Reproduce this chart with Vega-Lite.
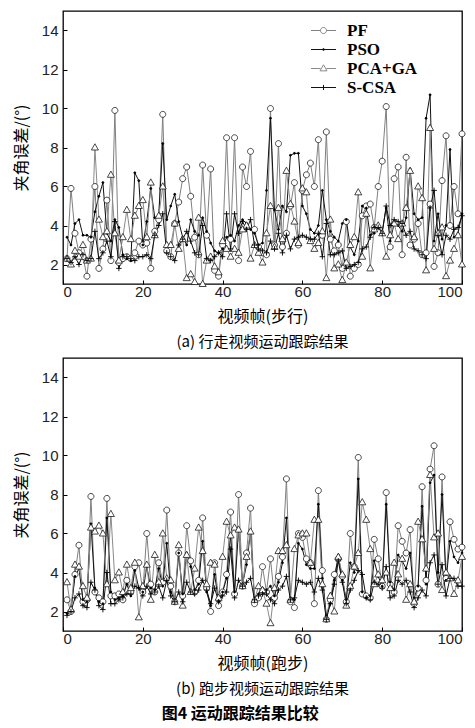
{
"$schema": "https://vega.github.io/schema/vega-lite/v6.json",
"background": "white",
"padding": {"left": 12, "top": 10, "right": 4, "bottom": 4},
"spacing": 6,
"config": {
  "view": {"stroke": "black", "strokeWidth": 1.3},
  "axis": {"domain": false, "grid": false, "tickColor": "black", "tickSize": -4, "labelFont": "Liberation Sans", "labelFontSize": 15, "labelColor": "#222", "titleFont": "Noto Sans CJK SC", "titleFontSize": 16, "titleFontWeight": "normal", "titleColor": "black"},
  "title": {"font": "Noto Sans CJK SC", "fontSize": 15, "fontWeight": "normal", "color": "black"},
  "legend": {"orient": "none", "legendX": 250, "legendY": 9, "title": null, "symbolSize": 380, "rowPadding": 0, "labelOffset": 13, "labelFont": "Liberation Serif", "labelFontWeight": "bold", "labelFontSize": 17, "labelColor": "black", "padding": 0}
},
"title": {"text": "图4  运动跟踪结果比较", "orient": "bottom", "anchor": "middle", "fontSize": 16, "fontWeight": "bold", "offset": 8},
"datasets": {
"a": [
{"f":1,"PF":2.3,"PSO":3.4,"PCA+GA":2.3,"S-CSA":2.3},{"f":2,"PF":5.9,"PSO":3.0,"PCA+GA":2.0,"S-CSA":2.1},{"f":3,"PF":3.6,"PSO":4.1,"PCA+GA":2.7,"S-CSA":2.4},{"f":4,"PF":2.6,"PSO":4.3,"PCA+GA":2.4,"S-CSA":2.0},{"f":5,"PF":2.4,"PSO":3.5,"PCA+GA":3.0,"S-CSA":2.5},
{"f":6,"PF":1.4,"PSO":3.5,"PCA+GA":2.2,"S-CSA":2.2},{"f":7,"PF":3.3,"PSO":3.4,"PCA+GA":2.3,"S-CSA":2.3},{"f":8,"PF":6.0,"PSO":4.7,"PCA+GA":8.0,"S-CSA":3.7},{"f":9,"PF":1.8,"PSO":5.5,"PCA+GA":4.3,"S-CSA":2.3},{"f":10,"PF":2.8,"PSO":6.2,"PCA+GA":3.4,"S-CSA":2.6},
{"f":11,"PF":5.3,"PSO":3.6,"PCA+GA":3.7,"S-CSA":3.2},{"f":12,"PF":2.2,"PSO":3.2,"PCA+GA":6.6,"S-CSA":2.4},{"f":13,"PF":9.9,"PSO":4.3,"PCA+GA":3.6,"S-CSA":4.2},{"f":14,"PF":2.1,"PSO":3.9,"PCA+GA":2.2,"S-CSA":1.8},{"f":15,"PF":2.3,"PSO":2.5,"PCA+GA":3.4,"S-CSA":2.4},
{"f":16,"PF":2.4,"PSO":2.3,"PCA+GA":4.8,"S-CSA":2.4},{"f":17,"PF":2.3,"PSO":2.2,"PCA+GA":3.3,"S-CSA":2.3},{"f":18,"PF":2.6,"PSO":6.7,"PCA+GA":4.5,"S-CSA":2.2},{"f":19,"PF":3.2,"PSO":6.3,"PCA+GA":5.0,"S-CSA":2.4},{"f":20,"PF":3.0,"PSO":3.0,"PCA+GA":5.3,"S-CSA":2.4},
{"f":21,"PF":3.1,"PSO":4.2,"PCA+GA":3.4,"S-CSA":2.5},{"f":22,"PF":1.8,"PSO":5.9,"PCA+GA":6.2,"S-CSA":2.3},{"f":23,"PF":3.7,"PSO":4.4,"PCA+GA":3.5,"S-CSA":3.5},{"f":24,"PF":4.3,"PSO":4.5,"PCA+GA":4.5,"S-CSA":4.0},{"f":25,"PF":9.7,"PSO":8.2,"PCA+GA":6.0,"S-CSA":4.6},
{"f":26,"PF":2.7,"PSO":4.3,"PCA+GA":3.0,"S-CSA":2.6},{"f":27,"PF":2.4,"PSO":5.0,"PCA+GA":3.0,"S-CSA":2.4},{"f":28,"PF":4.1,"PSO":5.6,"PCA+GA":4.1,"S-CSA":2.2},{"f":29,"PF":5.2,"PSO":4.2,"PCA+GA":2.8,"S-CSA":3.0},{"f":30,"PF":6.4,"PSO":3.4,"PCA+GA":3.3,"S-CSA":3.3},
{"f":31,"PF":7.0,"PSO":3.0,"PCA+GA":1.3,"S-CSA":3.7},{"f":32,"PF":5.5,"PSO":4.3,"PCA+GA":1.5,"S-CSA":3.2},{"f":33,"PF":3.4,"PSO":3.7,"PCA+GA":1.1,"S-CSA":2.6},{"f":34,"PF":2.5,"PSO":3.5,"PCA+GA":4.4,"S-CSA":2.5},{"f":35,"PF":7.1,"PSO":4.4,"PCA+GA":1.0,"S-CSA":4.0},
{"f":36,"PF":3.5,"PSO":3.7,"PCA+GA":2.2,"S-CSA":2.3},{"f":37,"PF":6.9,"PSO":3.1,"PCA+GA":2.4,"S-CSA":2.2},{"f":38,"PF":1.7,"PSO":2.7,"PCA+GA":1.9,"S-CSA":2.4},{"f":39,"PF":1.4,"PSO":2.6,"PCA+GA":1.6,"S-CSA":2.6},{"f":40,"PF":3.0,"PSO":2.8,"PCA+GA":3.2,"S-CSA":2.4},
{"f":41,"PF":8.5,"PSO":3.4,"PCA+GA":2.8,"S-CSA":4.6},{"f":42,"PF":3.3,"PSO":3.5,"PCA+GA":2.4,"S-CSA":2.8},{"f":43,"PF":8.5,"PSO":3.2,"PCA+GA":2.8,"S-CSA":4.6},{"f":44,"PF":2.2,"PSO":4.0,"PCA+GA":2.6,"S-CSA":3.6},{"f":45,"PF":7.0,"PSO":4.3,"PCA+GA":3.8,"S-CSA":4.2},
{"f":46,"PF":6.0,"PSO":4.1,"PCA+GA":4.0,"S-CSA":3.8},{"f":47,"PF":7.8,"PSO":3.8,"PCA+GA":2.3,"S-CSA":4.3},{"f":48,"PF":3.8,"PSO":3.6,"PCA+GA":3.0,"S-CSA":3.0},{"f":49,"PF":2.9,"PSO":3.0,"PCA+GA":2.6,"S-CSA":2.8},{"f":50,"PF":2.6,"PSO":3.1,"PCA+GA":2.1,"S-CSA":2.7},
{"f":51,"PF":2.5,"PSO":5.8,"PCA+GA":3.6,"S-CSA":2.6},{"f":52,"PF":10.0,"PSO":9.5,"PCA+GA":5.0,"S-CSA":3.2},{"f":53,"PF":3.0,"PSO":4.8,"PCA+GA":2.9,"S-CSA":2.8},{"f":54,"PF":8.2,"PSO":3.8,"PCA+GA":4.9,"S-CSA":3.6},{"f":55,"PF":2.9,"PSO":5.0,"PCA+GA":3.3,"S-CSA":2.6},
{"f":56,"PF":3.6,"PSO":4.7,"PCA+GA":6.8,"S-CSA":3.5},{"f":57,"PF":5.0,"PSO":7.6,"PCA+GA":5.1,"S-CSA":2.8},{"f":58,"PF":6.2,"PSO":7.7,"PCA+GA":4.2,"S-CSA":3.3},{"f":59,"PF":3.0,"PSO":7.7,"PCA+GA":3.1,"S-CSA":3.4},{"f":60,"PF":5.8,"PSO":5.0,"PCA+GA":5.9,"S-CSA":3.5},
{"f":61,"PF":6.6,"PSO":4.6,"PCA+GA":5.7,"S-CSA":3.4},{"f":62,"PF":7.2,"PSO":3.8,"PCA+GA":3.2,"S-CSA":3.3},{"f":63,"PF":6.0,"PSO":3.6,"PCA+GA":2.8,"S-CSA":3.3},{"f":64,"PF":8.4,"PSO":4.0,"PCA+GA":3.1,"S-CSA":3.6},{"f":65,"PF":3.5,"PSO":5.8,"PCA+GA":3.7,"S-CSA":2.4},
{"f":66,"PF":8.8,"PSO":4.3,"PCA+GA":1.3,"S-CSA":4.1},{"f":67,"PF":3.3,"PSO":3.7,"PCA+GA":4.3,"S-CSA":2.5},{"f":68,"PF":2.7,"PSO":3.4,"PCA+GA":1.8,"S-CSA":2.5},{"f":69,"PF":3.0,"PSO":3.2,"PCA+GA":2.0,"S-CSA":2.6},{"f":70,"PF":1.8,"PSO":4.1,"PCA+GA":1.2,"S-CSA":2.7},
{"f":71,"PF":4.2,"PSO":4.3,"PCA+GA":2.1,"S-CSA":1.8},{"f":72,"PF":1.4,"PSO":2.9,"PCA+GA":3.0,"S-CSA":1.9},{"f":73,"PF":1.8,"PSO":2.5,"PCA+GA":3.4,"S-CSA":2.0},{"f":74,"PF":2.0,"PSO":3.2,"PCA+GA":5.7,"S-CSA":2.1},{"f":75,"PF":4.5,"PSO":5.0,"PCA+GA":2.4,"S-CSA":2.8},
{"f":76,"PF":5.0,"PSO":4.9,"PCA+GA":4.6,"S-CSA":2.9},{"f":77,"PF":5.1,"PSO":3.5,"PCA+GA":1.8,"S-CSA":3.4},{"f":78,"PF":3.9,"PSO":3.6,"PCA+GA":3.8,"S-CSA":3.9},{"f":79,"PF":6.0,"PSO":3.9,"PCA+GA":4.0,"S-CSA":3.9},{"f":80,"PF":7.3,"PSO":3.7,"PCA+GA":3.6,"S-CSA":3.6},
{"f":81,"PF":10.1,"PSO":4.9,"PCA+GA":2.4,"S-CSA":5.0},{"f":82,"PF":2.9,"PSO":3.2,"PCA+GA":3.5,"S-CSA":4.0},{"f":83,"PF":6.4,"PSO":4.1,"PCA+GA":4.1,"S-CSA":4.3},{"f":84,"PF":7.0,"PSO":4.0,"PCA+GA":3.3,"S-CSA":4.2},{"f":85,"PF":2.5,"PSO":3.7,"PCA+GA":4.1,"S-CSA":4.1},
{"f":86,"PF":7.5,"PSO":4.4,"PCA+GA":4.9,"S-CSA":3.5},{"f":87,"PF":3.0,"PSO":6.9,"PCA+GA":6.8,"S-CSA":3.7},{"f":88,"PF":3.3,"PSO":4.6,"PCA+GA":3.4,"S-CSA":2.8},{"f":89,"PF":4.1,"PSO":4.3,"PCA+GA":6.0,"S-CSA":2.7},{"f":90,"PF":2.5,"PSO":4.4,"PCA+GA":5.4,"S-CSA":2.5},
{"f":91,"PF":2.6,"PSO":9.5,"PCA+GA":1.7,"S-CSA":2.3},{"f":92,"PF":5.1,"PSO":10.7,"PCA+GA":9.0,"S-CSA":4.9},{"f":93,"PF":1.9,"PSO":3.2,"PCA+GA":2.8,"S-CSA":5.8},{"f":94,"PF":2.6,"PSO":4.6,"PCA+GA":3.6,"S-CSA":3.5},{"f":95,"PF":6.3,"PSO":3.3,"PCA+GA":3.9,"S-CSA":2.5},
{"f":96,"PF":8.6,"PSO":4.0,"PCA+GA":1.4,"S-CSA":3.5},{"f":97,"PF":4.0,"PSO":7.9,"PCA+GA":2.2,"S-CSA":3.3},{"f":98,"PF":6.0,"PSO":3.4,"PCA+GA":2.8,"S-CSA":3.8},{"f":99,"PF":4.6,"PSO":3.6,"PCA+GA":3.5,"S-CSA":3.9},{"f":100,"PF":8.7,"PSO":4.6,"PCA+GA":2.0,"S-CSA":4.5}
],
"b": [
{"f":1,"PF":2.6,"PSO":1.9,"PCA+GA":3.5,"S-CSA":1.8},{"f":2,"PF":2.0,"PSO":2.1,"PCA+GA":2.1,"S-CSA":2.0},{"f":3,"PF":3.9,"PSO":3.8,"PCA+GA":4.4,"S-CSA":2.7},{"f":4,"PF":5.4,"PSO":4.2,"PCA+GA":4.3,"S-CSA":2.9},{"f":5,"PF":2.5,"PSO":2.6,"PCA+GA":3.3,"S-CSA":2.3},
{"f":6,"PF":2.6,"PSO":2.5,"PCA+GA":2.7,"S-CSA":2.2},{"f":7,"PF":7.9,"PSO":6.5,"PCA+GA":6.3,"S-CSA":3.5},{"f":8,"PF":3.0,"PSO":3.2,"PCA+GA":6.1,"S-CSA":3.1},{"f":9,"PF":2.7,"PSO":2.5,"PCA+GA":6.4,"S-CSA":2.3},{"f":10,"PF":2.5,"PSO":2.4,"PCA+GA":6.0,"S-CSA":2.1},
{"f":11,"PF":7.8,"PSO":6.8,"PCA+GA":3.4,"S-CSA":4.0},{"f":12,"PF":2.8,"PSO":3.0,"PCA+GA":7.0,"S-CSA":2.4},{"f":13,"PF":2.8,"PSO":2.6,"PCA+GA":3.6,"S-CSA":2.4},{"f":14,"PF":2.9,"PSO":2.7,"PCA+GA":4.0,"S-CSA":2.6},{"f":15,"PF":2.6,"PSO":2.8,"PCA+GA":3.0,"S-CSA":2.7},
{"f":16,"PF":3.6,"PSO":3.4,"PCA+GA":4.4,"S-CSA":2.9},{"f":17,"PF":3.0,"PSO":2.8,"PCA+GA":3.2,"S-CSA":2.9},{"f":18,"PF":4.3,"PSO":4.1,"PCA+GA":4.5,"S-CSA":3.3},{"f":19,"PF":4.5,"PSO":3.2,"PCA+GA":1.7,"S-CSA":3.2},{"f":20,"PF":3.0,"PSO":3.0,"PCA+GA":3.3,"S-CSA":2.8},
{"f":21,"PF":6.0,"PSO":4.3,"PCA+GA":4.4,"S-CSA":3.3},{"f":22,"PF":3.4,"PSO":3.2,"PCA+GA":2.6,"S-CSA":2.9},{"f":23,"PF":3.0,"PSO":3.1,"PCA+GA":4.9,"S-CSA":3.0},{"f":24,"PF":4.5,"PSO":4.2,"PCA+GA":3.5,"S-CSA":3.3},{"f":25,"PF":3.5,"PSO":3.3,"PCA+GA":6.0,"S-CSA":2.7},
{"f":26,"PF":7.2,"PSO":5.5,"PCA+GA":3.7,"S-CSA":3.6},{"f":27,"PF":3.3,"PSO":3.0,"PCA+GA":3.6,"S-CSA":2.8},{"f":28,"PF":2.5,"PSO":2.6,"PCA+GA":2.5,"S-CSA":2.5},{"f":29,"PF":5.0,"PSO":5.0,"PCA+GA":5.4,"S-CSA":3.0},{"f":30,"PF":2.8,"PSO":2.9,"PCA+GA":2.3,"S-CSA":2.5},
{"f":31,"PF":6.4,"PSO":5.0,"PCA+GA":4.9,"S-CSA":3.5},{"f":32,"PF":4.6,"PSO":4.3,"PCA+GA":3.0,"S-CSA":3.0},{"f":33,"PF":3.0,"PSO":3.1,"PCA+GA":4.2,"S-CSA":2.9},{"f":34,"PF":3.6,"PSO":3.4,"PCA+GA":6.3,"S-CSA":3.1},{"f":35,"PF":6.8,"PSO":5.6,"PCA+GA":5.1,"S-CSA":3.6},
{"f":36,"PF":3.2,"PSO":3.0,"PCA+GA":3.4,"S-CSA":3.1},{"f":37,"PF":2.0,"PSO":2.3,"PCA+GA":4.5,"S-CSA":2.4},{"f":38,"PF":4.5,"PSO":3.9,"PCA+GA":4.4,"S-CSA":3.2},{"f":39,"PF":2.3,"PSO":2.5,"PCA+GA":2.7,"S-CSA":2.5},{"f":40,"PF":3.0,"PSO":3.0,"PCA+GA":4.8,"S-CSA":2.8},
{"f":41,"PF":3.9,"PSO":3.7,"PCA+GA":6.6,"S-CSA":3.0},{"f":42,"PF":7.1,"PSO":5.9,"PCA+GA":5.9,"S-CSA":5.2},{"f":43,"PF":2.9,"PSO":3.0,"PCA+GA":6.3,"S-CSA":2.7},{"f":44,"PF":8.0,"PSO":6.2,"PCA+GA":6.2,"S-CSA":3.6},{"f":45,"PF":3.3,"PSO":3.4,"PCA+GA":3.3,"S-CSA":3.3},
{"f":46,"PF":5.0,"PSO":4.4,"PCA+GA":4.8,"S-CSA":3.5},{"f":47,"PF":7.3,"PSO":6.1,"PCA+GA":6.1,"S-CSA":3.7},{"f":48,"PF":2.4,"PSO":2.5,"PCA+GA":2.6,"S-CSA":2.6},{"f":49,"PF":2.7,"PSO":2.9,"PCA+GA":3.3,"S-CSA":2.8},{"f":50,"PF":4.3,"PSO":3.2,"PCA+GA":3.1,"S-CSA":2.9},
{"f":51,"PF":3.0,"PSO":3.1,"PCA+GA":2.4,"S-CSA":2.9},{"f":52,"PF":4.7,"PSO":3.3,"PCA+GA":1.4,"S-CSA":2.6},{"f":53,"PF":2.7,"PSO":2.8,"PCA+GA":3.2,"S-CSA":2.4},{"f":54,"PF":3.8,"PSO":3.5,"PCA+GA":5.1,"S-CSA":3.1},{"f":55,"PF":4.8,"PSO":4.5,"PCA+GA":5.1,"S-CSA":3.3},
{"f":56,"PF":8.8,"PSO":6.8,"PCA+GA":5.4,"S-CSA":3.8},{"f":57,"PF":2.5,"PSO":2.7,"PCA+GA":2.6,"S-CSA":2.6},{"f":58,"PF":2.2,"PSO":2.6,"PCA+GA":5.2,"S-CSA":2.7},{"f":59,"PF":6.0,"PSO":5.5,"PCA+GA":5.9,"S-CSA":3.6},{"f":60,"PF":5.8,"PSO":5.2,"PCA+GA":6.0,"S-CSA":3.5},
{"f":61,"PF":4.7,"PSO":4.4,"PCA+GA":6.0,"S-CSA":3.4},{"f":62,"PF":4.5,"PSO":4.2,"PCA+GA":4.5,"S-CSA":3.5},{"f":63,"PF":2.4,"PSO":4.2,"PCA+GA":6.7,"S-CSA":3.0},{"f":64,"PF":8.2,"PSO":7.5,"PCA+GA":6.7,"S-CSA":3.7},{"f":65,"PF":4.1,"PSO":3.7,"PCA+GA":3.4,"S-CSA":3.1},
{"f":66,"PF":1.6,"PSO":1.8,"PCA+GA":1.6,"S-CSA":1.6},{"f":67,"PF":2.6,"PSO":2.4,"PCA+GA":2.8,"S-CSA":2.4},{"f":68,"PF":3.9,"PSO":3.6,"PCA+GA":2.0,"S-CSA":3.4},{"f":69,"PF":4.7,"PSO":4.9,"PCA+GA":4.8,"S-CSA":4.6},{"f":70,"PF":3.8,"PSO":3.6,"PCA+GA":3.9,"S-CSA":3.5},
{"f":71,"PF":2.5,"PSO":2.6,"PCA+GA":2.3,"S-CSA":2.4},{"f":72,"PF":6.0,"PSO":4.5,"PCA+GA":3.3,"S-CSA":3.1},{"f":73,"PF":4.3,"PSO":4.0,"PCA+GA":4.3,"S-CSA":3.6},{"f":74,"PF":9.9,"PSO":8.8,"PCA+GA":5.0,"S-CSA":4.1},{"f":75,"PF":2.9,"PSO":3.0,"PCA+GA":7.6,"S-CSA":3.9},
{"f":76,"PF":2.8,"PSO":2.7,"PCA+GA":6.7,"S-CSA":2.7},{"f":77,"PF":2.7,"PSO":2.8,"PCA+GA":5.2,"S-CSA":2.6},{"f":78,"PF":5.7,"PSO":4.6,"PCA+GA":3.4,"S-CSA":3.5},{"f":79,"PF":4.7,"PSO":3.8,"PCA+GA":3.9,"S-CSA":3.4},{"f":80,"PF":3.3,"PSO":3.3,"PCA+GA":3.6,"S-CSA":3.2},
{"f":81,"PF":8.1,"PSO":7.5,"PCA+GA":4.0,"S-CSA":4.3},{"f":82,"PF":3.4,"PSO":3.5,"PCA+GA":3.2,"S-CSA":2.7},{"f":83,"PF":3.0,"PSO":3.1,"PCA+GA":4.5,"S-CSA":2.8},{"f":84,"PF":6.4,"PSO":4.9,"PCA+GA":3.9,"S-CSA":3.6},{"f":85,"PF":5.6,"PSO":4.6,"PCA+GA":4.7,"S-CSA":3.4},
{"f":86,"PF":5.0,"PSO":4.2,"PCA+GA":2.6,"S-CSA":3.6},{"f":87,"PF":6.2,"PSO":5.0,"PCA+GA":3.4,"S-CSA":3.0},{"f":88,"PF":2.4,"PSO":2.7,"PCA+GA":2.5,"S-CSA":2.2},{"f":89,"PF":3.2,"PSO":3.3,"PCA+GA":6.6,"S-CSA":2.7},{"f":90,"PF":8.4,"PSO":7.4,"PCA+GA":5.7,"S-CSA":3.1},
{"f":91,"PF":3.6,"PSO":3.4,"PCA+GA":4.2,"S-CSA":2.8},{"f":92,"PF":9.3,"PSO":8.6,"PCA+GA":9.0,"S-CSA":4.5},{"f":93,"PF":10.5,"PSO":9.0,"PCA+GA":5.8,"S-CSA":4.9},{"f":94,"PF":3.4,"PSO":4.0,"PCA+GA":6.0,"S-CSA":3.4},{"f":95,"PF":8.9,"PSO":8.0,"PCA+GA":3.1,"S-CSA":4.4},
{"f":96,"PF":3.7,"PSO":3.6,"PCA+GA":4.0,"S-CSA":2.8},{"f":97,"PF":6.6,"PSO":5.6,"PCA+GA":3.7,"S-CSA":3.7},{"f":98,"PF":5.7,"PSO":4.8,"PCA+GA":2.9,"S-CSA":3.7},{"f":99,"PF":5.2,"PSO":4.5,"PCA+GA":3.6,"S-CSA":3.3},{"f":100,"PF":5.3,"PSO":5.0,"PCA+GA":4.8,"S-CSA":3.3}
]
},
"vconcat": [
{
  "width": 399, "height": 273,
  "data": {"name": "a"},
  "transform": [{"fold": ["PF", "PSO", "PCA+GA", "S-CSA"], "as": ["method", "err"]}],
  "title": {"text": "(a) 行走视频运动跟踪结果", "orient": "bottom", "anchor": "middle", "offset": 11},
  "encoding": {
    "x": {"field": "f", "type": "quantitative", "scale": {"domain": [0, 100], "nice": false}, "axis": {"values": [0, 20, 40, 60, 80, 100], "title": "视频帧(步行)", "labelPadding": 4, "titlePadding": 9}},
    "y": {"field": "err", "type": "quantitative", "scale": {"domain": [1, 15], "nice": false}, "axis": {"values": [2, 4, 6, 8, 10, 12, 14], "title": "夹角误差/(°)", "labelPadding": 9, "titlePadding": 12}}
  },
  "layer": [
    {"mark": {"type": "line", "strokeWidth": 1},
     "encoding": {"color": {"field": "method", "type": "nominal",
       "scale": {"domain": ["PF", "PSO", "PCA+GA", "S-CSA"], "range": ["#808080", "#111111", "#8a8a8a", "#111111"]},
       "legend": {"encode": {"symbols": {"update": {"shape": {"signal": "datum.value === 'PF' ? 'M-1.28,0H-0.31M0.31,0H1.28M0.31,0A0.31,0.31,0,1,1,-0.31,0A0.31,0.31,0,1,1,0.31,0' : datum.value === 'PSO' ? 'M-1.28,0H1.28M0.1,0A0.1,0.1,0,1,1,-0.1,0A0.1,0.1,0,1,1,0.1,0' : datum.value === 'PCA+GA' ? 'M-1.28,0H-0.3M0.3,0H1.28M0,-0.38L0.36,0.24L-0.36,0.24Z' : 'M-1.28,0H1.28M0,-0.26V0.26'"}, "stroke": {"value": "black"}, "fill": {"value": "transparent"}, "strokeWidth": {"value": 1}, "size": {"value": 380}, "opacity": {"value": 1}}}}}}}},
    {"transform": [{"filter": "datum.method === 'PF'"}], "mark": {"type": "point", "shape": "M0.6,0A0.6,0.6,0,1,1,-0.6,0A0.6,0.6,0,1,1,0.6,0", "fill": "white", "stroke": "#1a1a1a", "strokeWidth": 0.8, "opacity": 1, "size": 100}},
    {"transform": [{"filter": "datum.method === 'PSO'"}], "mark": {"type": "point", "shape": "M0.2,0A0.2,0.2,0,1,1,-0.2,0A0.2,0.2,0,1,1,0.2,0", "fill": "black", "stroke": "black", "strokeWidth": 0.8, "opacity": 1, "size": 100}},
    {"transform": [{"filter": "datum.method === 'PCA+GA'"}], "mark": {"type": "point", "shape": "M0,-0.75L0.7,0.5L-0.7,0.5Z", "fill": "white", "stroke": "#1a1a1a", "strokeWidth": 0.8, "opacity": 1, "size": 100}},
    {"transform": [{"filter": "datum.method === 'S-CSA'"}], "mark": {"type": "point", "shape": "M-0.55,0H0.55M0,-0.55V0.55", "fill": "transparent", "stroke": "black", "strokeWidth": 0.9, "opacity": 1, "size": 100}}
  ]
},
{
  "width": 399, "height": 273,
  "data": {"name": "b"},
  "transform": [{"fold": ["PF", "PSO", "PCA+GA", "S-CSA"], "as": ["method", "err"]}],
  "title": {"text": "(b) 跑步视频运动跟踪结果", "orient": "bottom", "anchor": "middle", "offset": 11},
  "encoding": {
    "x": {"field": "f", "type": "quantitative", "scale": {"domain": [0, 100], "nice": false}, "axis": {"values": [0, 20, 40, 60, 80, 100], "title": "视频帧(跑步)", "labelPadding": 4, "titlePadding": 9}},
    "y": {"field": "err", "type": "quantitative", "scale": {"domain": [1, 15], "nice": false}, "axis": {"values": [2, 4, 6, 8, 10, 12, 14], "title": "夹角误差/(°)", "labelPadding": 9, "titlePadding": 12}}
  },
  "layer": [
    {"mark": {"type": "line", "strokeWidth": 1},
     "encoding": {"color": {"field": "method", "type": "nominal",
       "scale": {"domain": ["PF", "PSO", "PCA+GA", "S-CSA"], "range": ["#808080", "#111111", "#8a8a8a", "#111111"]},
       "legend": {"encode": {"symbols": {"update": {"shape": {"signal": "datum.value === 'PF' ? 'M-1.28,0H-0.31M0.31,0H1.28M0.31,0A0.31,0.31,0,1,1,-0.31,0A0.31,0.31,0,1,1,0.31,0' : datum.value === 'PSO' ? 'M-1.28,0H1.28M0.1,0A0.1,0.1,0,1,1,-0.1,0A0.1,0.1,0,1,1,0.1,0' : datum.value === 'PCA+GA' ? 'M-1.28,0H-0.3M0.3,0H1.28M0,-0.38L0.36,0.24L-0.36,0.24Z' : 'M-1.28,0H1.28M0,-0.26V0.26'"}, "stroke": {"value": "black"}, "fill": {"value": "transparent"}, "strokeWidth": {"value": 1}, "size": {"value": 380}, "opacity": {"value": 1}}}}}}}},
    {"transform": [{"filter": "datum.method === 'PF'"}], "mark": {"type": "point", "shape": "M0.6,0A0.6,0.6,0,1,1,-0.6,0A0.6,0.6,0,1,1,0.6,0", "fill": "white", "stroke": "#1a1a1a", "strokeWidth": 0.8, "opacity": 1, "size": 100}},
    {"transform": [{"filter": "datum.method === 'PSO'"}], "mark": {"type": "point", "shape": "M0.2,0A0.2,0.2,0,1,1,-0.2,0A0.2,0.2,0,1,1,0.2,0", "fill": "black", "stroke": "black", "strokeWidth": 0.8, "opacity": 1, "size": 100}},
    {"transform": [{"filter": "datum.method === 'PCA+GA'"}], "mark": {"type": "point", "shape": "M0,-0.75L0.7,0.5L-0.7,0.5Z", "fill": "white", "stroke": "#1a1a1a", "strokeWidth": 0.8, "opacity": 1, "size": 100}},
    {"transform": [{"filter": "datum.method === 'S-CSA'"}], "mark": {"type": "point", "shape": "M-0.55,0H0.55M0,-0.55V0.55", "fill": "transparent", "stroke": "black", "strokeWidth": 0.9, "opacity": 1, "size": 100}}
  ]
}
]
}
